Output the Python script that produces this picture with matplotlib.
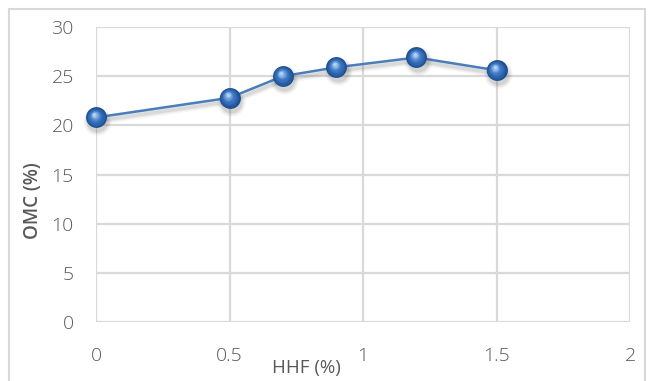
import numpy as np
import matplotlib
matplotlib.use("Agg")
import matplotlib.pyplot as plt
import matplotlib.transforms as mtransforms
from matplotlib.patches import Rectangle
from matplotlib.colors import to_rgb

# Optimum moisture content vs. HHF dosage
hhf = [0, 0.5, 0.7, 0.9, 1.2, 1.5]
omc = [20.8, 22.8, 25.0, 25.9, 26.9, 25.6]
x_ticks = [0, 0.5, 1, 1.5, 2]
x_tick_labels = ["0", "0.5", "1", "1.5", "2"]
y_ticks = [0, 5, 10, 15, 20, 25, 30]

plt.rcParams["font.family"] = ["Open Sans", "DejaVu Sans"]

W, H = 649, 381
fig = plt.figure(figsize=(W / 100, H / 100), dpi=100)
ax = fig.add_axes([96 / W, 1 - 322 / H, (630 - 96) / W, (322 - 27) / H])

grid_c = "#d9d9d9"
text_c = "#595959"

ax.set_xlim(0, 2)
ax.set_ylim(0, 30)
ax.set_xticks(x_ticks)
ax.set_xticklabels(x_tick_labels)
ax.set_yticks(y_ticks)
ax.grid(True, color=grid_c, lw=1.6, zorder=0)
ax.set_axisbelow(True)
for s in ax.spines.values():
    s.set_visible(False)
ax.tick_params(axis="both", length=0, labelsize=14, colors=text_c)
ax.tick_params(axis="x", pad=18)
ax.tick_params(axis="y", pad=16)
for lbl in ax.get_xticklabels() + ax.get_yticklabels():
    lbl.set_fontweight("light")

# soft drop shadow under line and markers
for lw, a in [(6, 0.05), (4, 0.07), (2.5, 0.1)]:
    tr = mtransforms.offset_copy(ax.transData, fig=fig, x=0.8, y=-2.5, units="points")
    ax.plot(hhf, omc, color="#555555", lw=lw, alpha=a, transform=tr,
            solid_capstyle="round", zorder=2, clip_on=False)

ax.plot(hhf, omc, color="#4a7ebb", lw=1.8, zorder=3, clip_on=False)

d = 15.0  # marker diameter in points
for sz, a in [(1.35, 0.06), (1.2, 0.08), (1.05, 0.12)]:
    tr = mtransforms.offset_copy(ax.transData, fig=fig, x=1.0, y=-2.8, units="points")
    ax.scatter(hhf, omc, s=(d * sz) ** 2, color="#444444", alpha=a, lw=0,
               transform=tr, zorder=4, clip_on=False)

# shaded sphere markers
dark = np.array(to_rgb("#1d4f8f"))
mid = np.array(to_rgb("#3f7bc8"))
light = np.array(to_rgb("#b9d5f3"))
n = 14
for i in range(n):
    t = i / (n - 1)
    frac = 1.0 - 0.88 * t
    if t < 0.55:
        c = dark + (mid - dark) * (t / 0.55)
    else:
        c = mid + (light - mid) * ((t - 0.55) / 0.45)
    dx = -0.09 * d * t
    dy = 0.15 * d * t
    tr = mtransforms.offset_copy(ax.transData, fig=fig, x=dx, y=dy, units="points")
    ax.scatter(hhf, omc, s=(d * frac) ** 2, color=c, lw=0, transform=tr,
               zorder=5 + i, clip_on=False)

fig.text(33 / W, 1 - 201 / H, "OMC (%)", rotation=90, ha="center", va="center",
         fontsize=13.5, color=text_c, fontweight="semibold")
fig.text(306 / W, 1 - 368 / H, "HHF (%)", ha="center", va="center",
         fontsize=13.5, color=text_c)

# chart frame
fig.add_artist(Rectangle((9 / W, -0.05), (645 - 9) / W, 1 - 9 / H + 0.05,
                         transform=fig.transFigure, fill=False,
                         edgecolor=grid_c, lw=1.5))

fig.savefig("out.png", dpi=100)
